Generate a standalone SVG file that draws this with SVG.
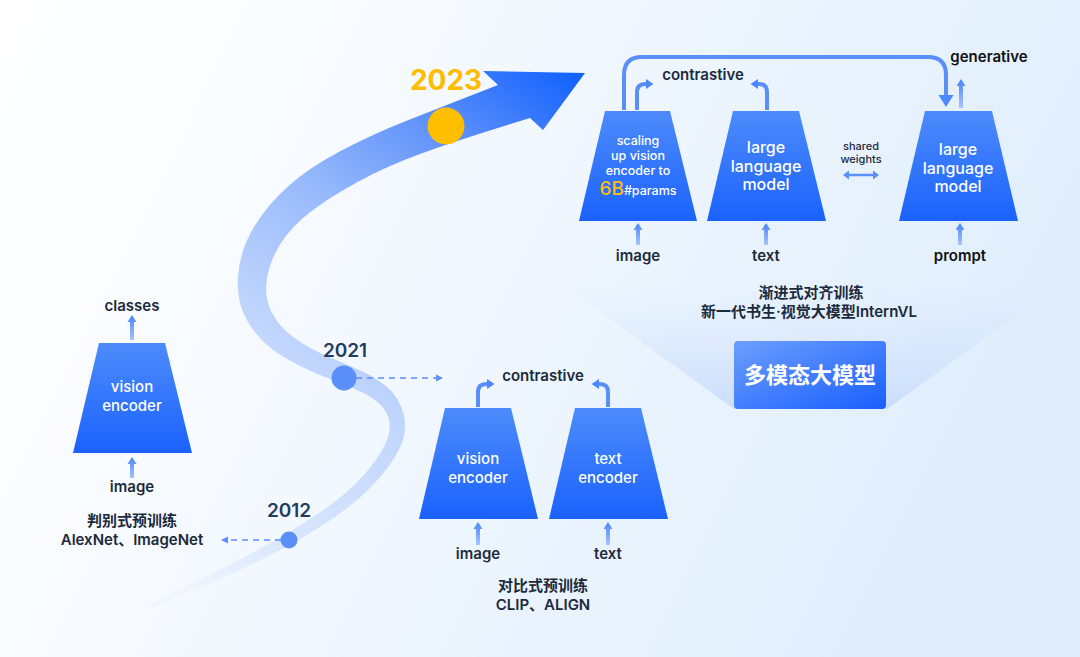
<svg xmlns="http://www.w3.org/2000/svg" width="1080" height="657" viewBox="0 0 1080 657">
<defs>
<linearGradient id="bg" x1="0" y1="0" x2="1" y2="0.3">
<stop offset="0" stop-color="#ffffff"/>
<stop offset="0.3" stop-color="#f8fbff"/>
<stop offset="1" stop-color="#e0eefc"/>
</linearGradient>
<linearGradient id="band" gradientUnits="userSpaceOnUse" x1="200" y1="600" x2="580" y2="80">
<stop offset="0" stop-color="#dbe7fd" stop-opacity="0.2"/>
<stop offset="0.15" stop-color="#d3e2fd" stop-opacity="0.8"/>
<stop offset="0.4" stop-color="#c1d6fd"/>
<stop offset="0.62" stop-color="#98bafc"/>
<stop offset="0.82" stop-color="#5b8ffa"/>
<stop offset="1" stop-color="#1463ff"/>
</linearGradient>
<linearGradient id="trap" x1="0" y1="0" x2="0" y2="1">
<stop offset="0" stop-color="#4d8bfb"/>
<stop offset="1" stop-color="#1a62fd"/>
</linearGradient>
<linearGradient id="arr" x1="0" y1="1" x2="0" y2="0">
<stop offset="0" stop-color="#a8c4fb"/>
<stop offset="1" stop-color="#4784fb"/>
</linearGradient>
<linearGradient id="box" x1="0" y1="0" x2="1" y2="1">
<stop offset="0" stop-color="#6c9efd"/>
<stop offset="1" stop-color="#1a5fff"/>
</linearGradient>
<linearGradient id="cone" gradientUnits="userSpaceOnUse" x1="0" y1="285" x2="0" y2="409">
<stop offset="0" stop-color="#d6e6fd" stop-opacity="0"/>
<stop offset="1" stop-color="#c7dbfc" stop-opacity="0.9"/>
</linearGradient>
<style>
.t{font-family:Inter,"Noto Sans CJK SC",sans-serif;font-weight:600;font-size:15px;fill:#1c2a3c;text-anchor:middle}
.s{font-family:Inter,sans-serif;font-weight:500;font-size:11px;fill:#1c2a3c;text-anchor:middle}
.w{font-family:Inter,"Noto Sans CJK SC",sans-serif;font-weight:500;fill:#ffffff;text-anchor:middle}
.yr{font-family:Inter,sans-serif;font-weight:600;font-size:19px;fill:#1f3b60;text-anchor:middle}
.trap{fill:url(#trap)}
.ar{fill:url(#arr)}
.cl{fill:none;stroke:#5a8ffa;stroke-width:4}
.hd{fill:#4c87fb}
.dash{fill:none;stroke:#5b8ff9;stroke-width:1.6;stroke-dasharray:6 5}
</style>
</defs>
<rect width="1080" height="657" fill="url(#bg)"/>
<polygon points="563,285 1059,285 887,409 734,409" fill="url(#cone)"/>

<g id="timeline">
<path fill="url(#band)" d="M149,604 L183.5,587.5 Q218,571 252,553 Q286,535 316,515 Q346,495 362.5,476.5 Q379,458 385.5,443.5 Q392,429 388.5,418 Q385,407 375,400 Q365,393 352.5,388 Q340,383 320,375 Q300,367 280.5,355 Q261,343 248.5,323 Q236,303 238,276.5 Q240,250 254,227 Q268,204 289,185.5 Q310,167 341.5,150.5 Q373,134 406,121 Q439,108 468.5,96.5 L498,85 L483,71 L585,73 L543,130 L530,118 L491.5,130 Q453,142 420,154 Q387,166 358.5,181.5 Q330,197 311,211.5 Q292,226 281,243 Q270,260 267,278.5 Q264,297 271.5,312 Q279,327 294.5,338 Q310,349 329,357 Q348,365 361.5,371 Q375,377 387,387 Q399,397 403.5,414 Q408,431 399.5,448.5 Q391,466 372.5,485.5 Q354,505 323,525 Q292,545 257,562 Q222,579 186.5,593.5 L151,608 Z"/>
<circle cx="446" cy="126" r="18.5" fill="#ffbe00"/>
<text x="446" y="90" font-family="Inter,sans-serif" font-weight="700" font-size="28" fill="#ffbc00" text-anchor="middle">2023</text>
<circle cx="344" cy="378" r="12.5" fill="#5b8ff9"/>
<text class="yr" x="345" y="357">2021</text>
<circle cx="289" cy="540" r="8.5" fill="#5b8ff9"/>
<text class="yr" x="289" y="517">2012</text>
</g>

<g id="connectors">
<line class="dash" x1="356" y1="378" x2="437" y2="378"/>
<polygon points="443,378 436,374.5 436,381.5" fill="#5b8ff9"/>
<line class="dash" x1="281" y1="540" x2="227" y2="540"/>
<polygon points="221,540 228,536.5 228,543.5" fill="#5b8ff9"/>
<path class="ar" d="M130,340 L130,322 L127.5,322 L132,315 L136.5,322 L134,322 L134,340 Z"/>
<path class="ar" d="M130,478 L130,464 L127.5,464 L132,457 L136.5,464 L134,464 L134,478 Z"/>
<path class="ar" d="M476,545 L476,529 L473.5,529 L478,522 L482.5,529 L480,529 L480,545 Z"/>
<path class="ar" d="M606,545 L606,529 L603.5,529 L608,522 L612.5,529 L610,529 L610,545 Z"/>
<path class="cl" d="M478,407 L478,392 Q478,384 486,384 L488,384"/>
<polygon class="hd" points="494.5,384 487,379 487,389"/>
<path class="cl" d="M608,407 L608,392 Q608,384 600,384 L598,384"/>
<polygon class="hd" points="591.5,384 599,379 599,389"/>
<path class="ar" d="M636,245 L636,230 L633.5,230 L638,223 L642.5,230 L640,230 L640,245 Z"/>
<path class="ar" d="M764,245 L764,230 L761.5,230 L766,223 L770.5,230 L768,230 L768,245 Z"/>
<path class="ar" d="M958,245 L958,230 L955.5,230 L960,223 L964.5,230 L962,230 L962,245 Z"/>
<path class="cl" d="M637,110 L637,92 Q637,84 645,84 L647,84"/>
<polygon class="hd" points="653.5,84 646,79 646,89"/>
<path class="cl" d="M767,110 L767,92 Q767,84 759,84 L757,84"/>
<polygon class="hd" points="750.5,84 758,79 758,89"/>
<path class="cl" d="M624,110 L624,75 Q624,57 642,57 L928,57 Q946,57 946,75 L946,96"/>
<polygon class="hd" points="946,107 938.5,95 953.5,95"/>
<path class="ar" d="M959,108 L959,86 L956.5,86 L961,79 L965.5,86 L963,86 L963,108 Z"/>
<path d="M843,175 L849,170.5 L849,173.8 L873,173.8 L873,170.5 L879,175 L873,179.5 L873,176.2 L849,176.2 L849,179.5 Z" fill="#5b8ff9"/>
</g>

<g id="node-left">
<polygon class="trap" points="99,343 165,343 192,453 73,453"/>
<text class="w" x="132" y="392" font-size="15">vision</text>
<text class="w" x="132" y="411" font-size="15">encoder</text>
<text class="t" x="132" y="311">classes</text>
<text class="t" x="132" y="492">image</text>
<text class="t" x="132" y="526">判别式预训练</text>
<text class="t" x="132" y="545">AlexNet、ImageNet</text>
</g>

<g id="node-mid-vision">
<polygon class="trap" points="445,408 511,408 538,519 419,519"/>
<text class="w" x="478" y="464" font-size="15">vision</text>
<text class="w" x="478" y="483" font-size="15">encoder</text>
<text class="t" x="478" y="559">image</text>
</g>
<g id="node-mid-text">
<polygon class="trap" points="575,408 641,408 668,519 549,519"/>
<text class="w" x="608" y="464" font-size="15">text</text>
<text class="w" x="608" y="483" font-size="15">encoder</text>
<text class="t" x="608" y="559">text</text>
</g>
<g id="label-mid">
<text class="t" x="543" y="381">contrastive</text>
<text class="t" x="543" y="591">对比式预训练</text>
<text class="t" x="543" y="610">CLIP、ALIGN</text>
</g>

<g id="node-top-vision">
<polygon class="trap" points="605,111 670,111 697,221 579,221"/>
<text class="w" x="638" y="145" font-size="12.5">scaling</text>
<text class="w" x="638" y="160" font-size="12.5">up vision</text>
<text class="w" x="638" y="175" font-size="12.5">encoder to</text>
<text class="w" x="638" y="195"><tspan fill="#fcbd0c" font-size="19">6B</tspan><tspan font-size="12.5">#params</tspan></text>
<text class="t" x="638" y="261">image</text>
</g>
<g id="node-top-llm1">
<polygon class="trap" points="733,111 799,111 826,221 707,221"/>
<text class="w" x="766" y="153" font-size="16">large</text>
<text class="w" x="766" y="172" font-size="16">language</text>
<text class="w" x="766" y="190" font-size="16">model</text>
<text class="t" x="766" y="261">text</text>
</g>
<g id="node-top-llm2">
<polygon class="trap" points="925,111 992,111 1018,221 899,221"/>
<text class="w" x="958" y="155" font-size="16">large</text>
<text class="w" x="958" y="174" font-size="16">language</text>
<text class="w" x="958" y="192" font-size="16">model</text>
<text class="t" x="960" y="261" style="fill:#111">prompt</text>
</g>
<g id="label-top">
<text class="t" x="703" y="80">contrastive</text>
<text class="t" x="989" y="62" style="fill:#111">generative</text>
<text class="s" x="861" y="150">shared</text>
<text class="s" x="861" y="163">weights</text>
<text class="t" x="811" y="298">渐进式对齐训练</text>
<text class="t" x="809" y="317">新一代书生·视觉大模型InternVL</text>
</g>
<g id="node-mllm">
<rect x="734" y="341" width="152" height="68" rx="4" fill="url(#box)"/>
<text x="810" y="383" font-family="Inter,'Noto Sans CJK SC',sans-serif" font-weight="700" font-size="22" fill="#fff" text-anchor="middle">多模态大模型</text>
</g>
</svg>
